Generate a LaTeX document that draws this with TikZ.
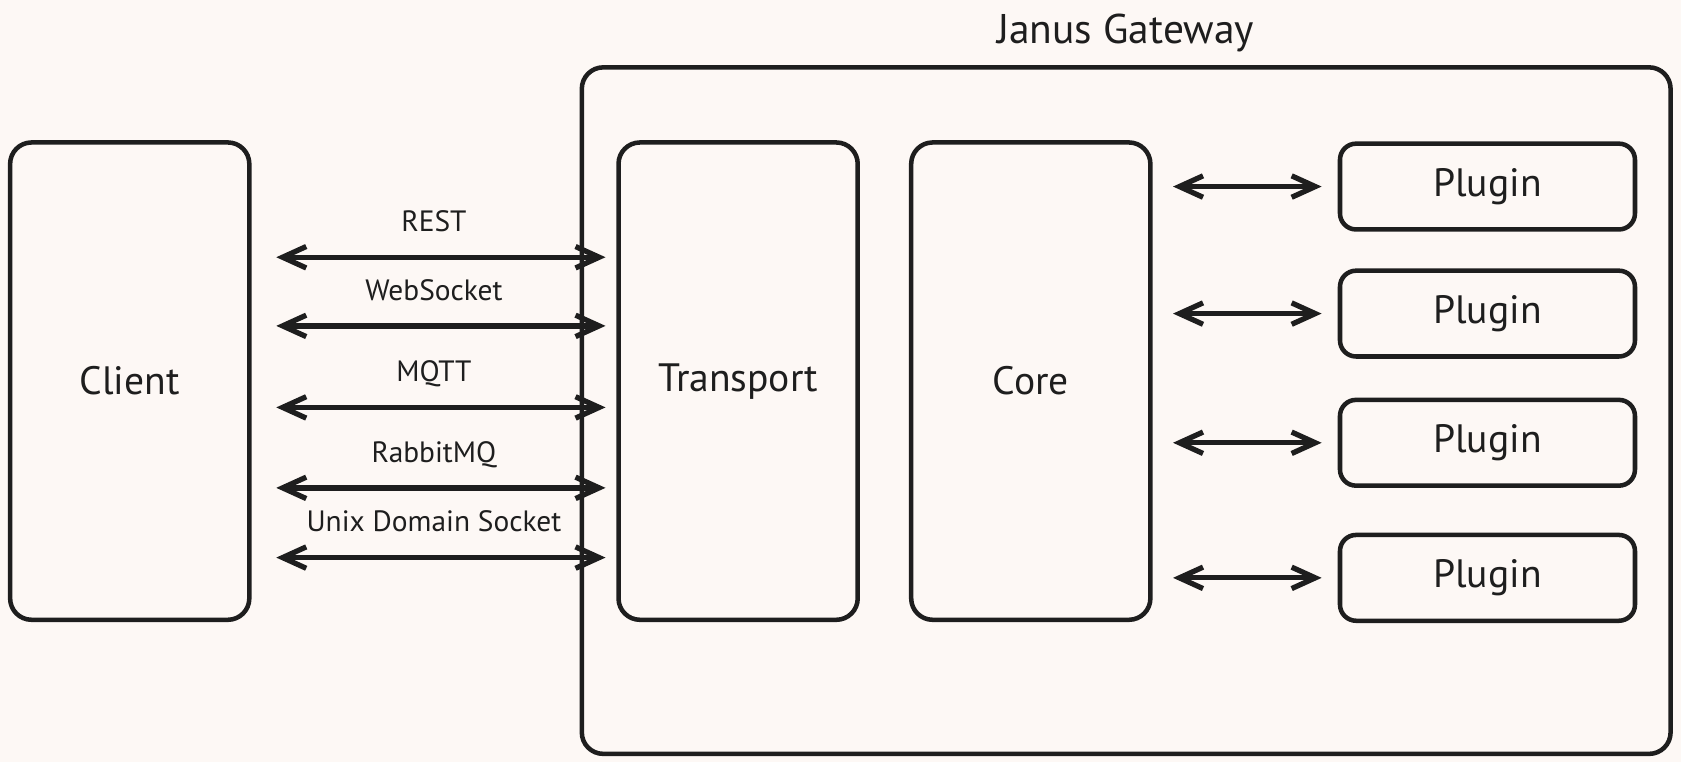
\documentclass[tikz,border=0pt]{standalone}
\usepackage{fontspec}
\setmainfont{PT Sans}
\usetikzlibrary{arrows.meta}
\definecolor{bgc}{RGB}{253,248,245}
\definecolor{ink}{RGB}{30,30,30}
\begin{document}
\begin{tikzpicture}[x=0.01cm,y=-0.01cm,
  box/.style={draw=ink, line width=1.2pt, rounded corners=0.2cm, inner sep=0pt, font=\fontsize{10.5}{12}\selectfont, text=ink},
  tall/.style={box, minimum width=2.23cm, minimum height=4.45cm},
  plug/.style={box, minimum width=2.75cm, minimum height=0.80cm, rounded corners=0.15cm},
  link/.style={draw=ink, line width=1.4pt, {Straight Barb[length=0.22cm,width=0.20cm]}-{Straight Barb[length=0.22cm,width=0.20cm]}},
  lab/.style={font=\fontsize{7.8}{9}\selectfont, text=ink, anchor=base, yshift=0.24cm, inner sep=0pt},
  ttl/.style={font=\fontsize{11}{13}\selectfont, text=ink}
]
\fill[bgc] (0,0) rectangle (1568,711);
\useasboundingbox (0,0) rectangle (1568,711);
\node[box, minimum width=10.15cm, minimum height=6.40cm] (gw) at (1050.5,383) {};
\node[ttl] (title) at (1050,31) {Janus Gateway};
\node[tall] (client) at (121,355.5) {Client};
\node[tall] (transport) at (688.5,355.5) {Transport};
\node[tall] (core) at (961.5,355.5) {Core};
\node[plug] (p1) at (1387.5,174) {Plugin};
\node[plug] (p2) at (1387.5,292.5) {Plugin};
\node[plug] (p3) at (1387.5,413) {Plugin};
\node[plug] (p4) at (1387.5,539) {Plugin};
\draw[link, shorten <=0.23cm, shorten >=0.10cm] ([yshift=1.155cm]client.east) -- node[lab]{REST} ([yshift=1.155cm]transport.west);
\draw[link, shorten <=0.23cm, shorten >=0.10cm] ([yshift=0.515cm]client.east) -- node[lab]{WebSocket} ([yshift=0.515cm]transport.west);
\draw[link, shorten <=0.23cm, shorten >=0.10cm] ([yshift=-0.245cm]client.east) -- node[lab]{MQTT} ([yshift=-0.245cm]transport.west);
\draw[link, shorten <=0.23cm, shorten >=0.10cm] ([yshift=-0.995cm]client.east) -- node[lab]{RabbitMQ} ([yshift=-0.995cm]transport.west);
\draw[link, shorten <=0.23cm, shorten >=0.10cm] ([yshift=-1.645cm]client.east) -- node[lab]{Unix Domain Socket} ([yshift=-1.645cm]transport.west);
\draw[link, shorten <=0.19cm, shorten >=0.15cm] (core.east |- p1.west) -- (p1.west);
\draw[link, shorten <=0.19cm, shorten >=0.15cm] (core.east |- p2.west) -- (p2.west);
\draw[link, shorten <=0.19cm, shorten >=0.15cm] (core.east |- p3.west) -- (p3.west);
\draw[link, shorten <=0.19cm, shorten >=0.15cm] (core.east |- p4.west) -- (p4.west);
\end{tikzpicture}
\end{document}
